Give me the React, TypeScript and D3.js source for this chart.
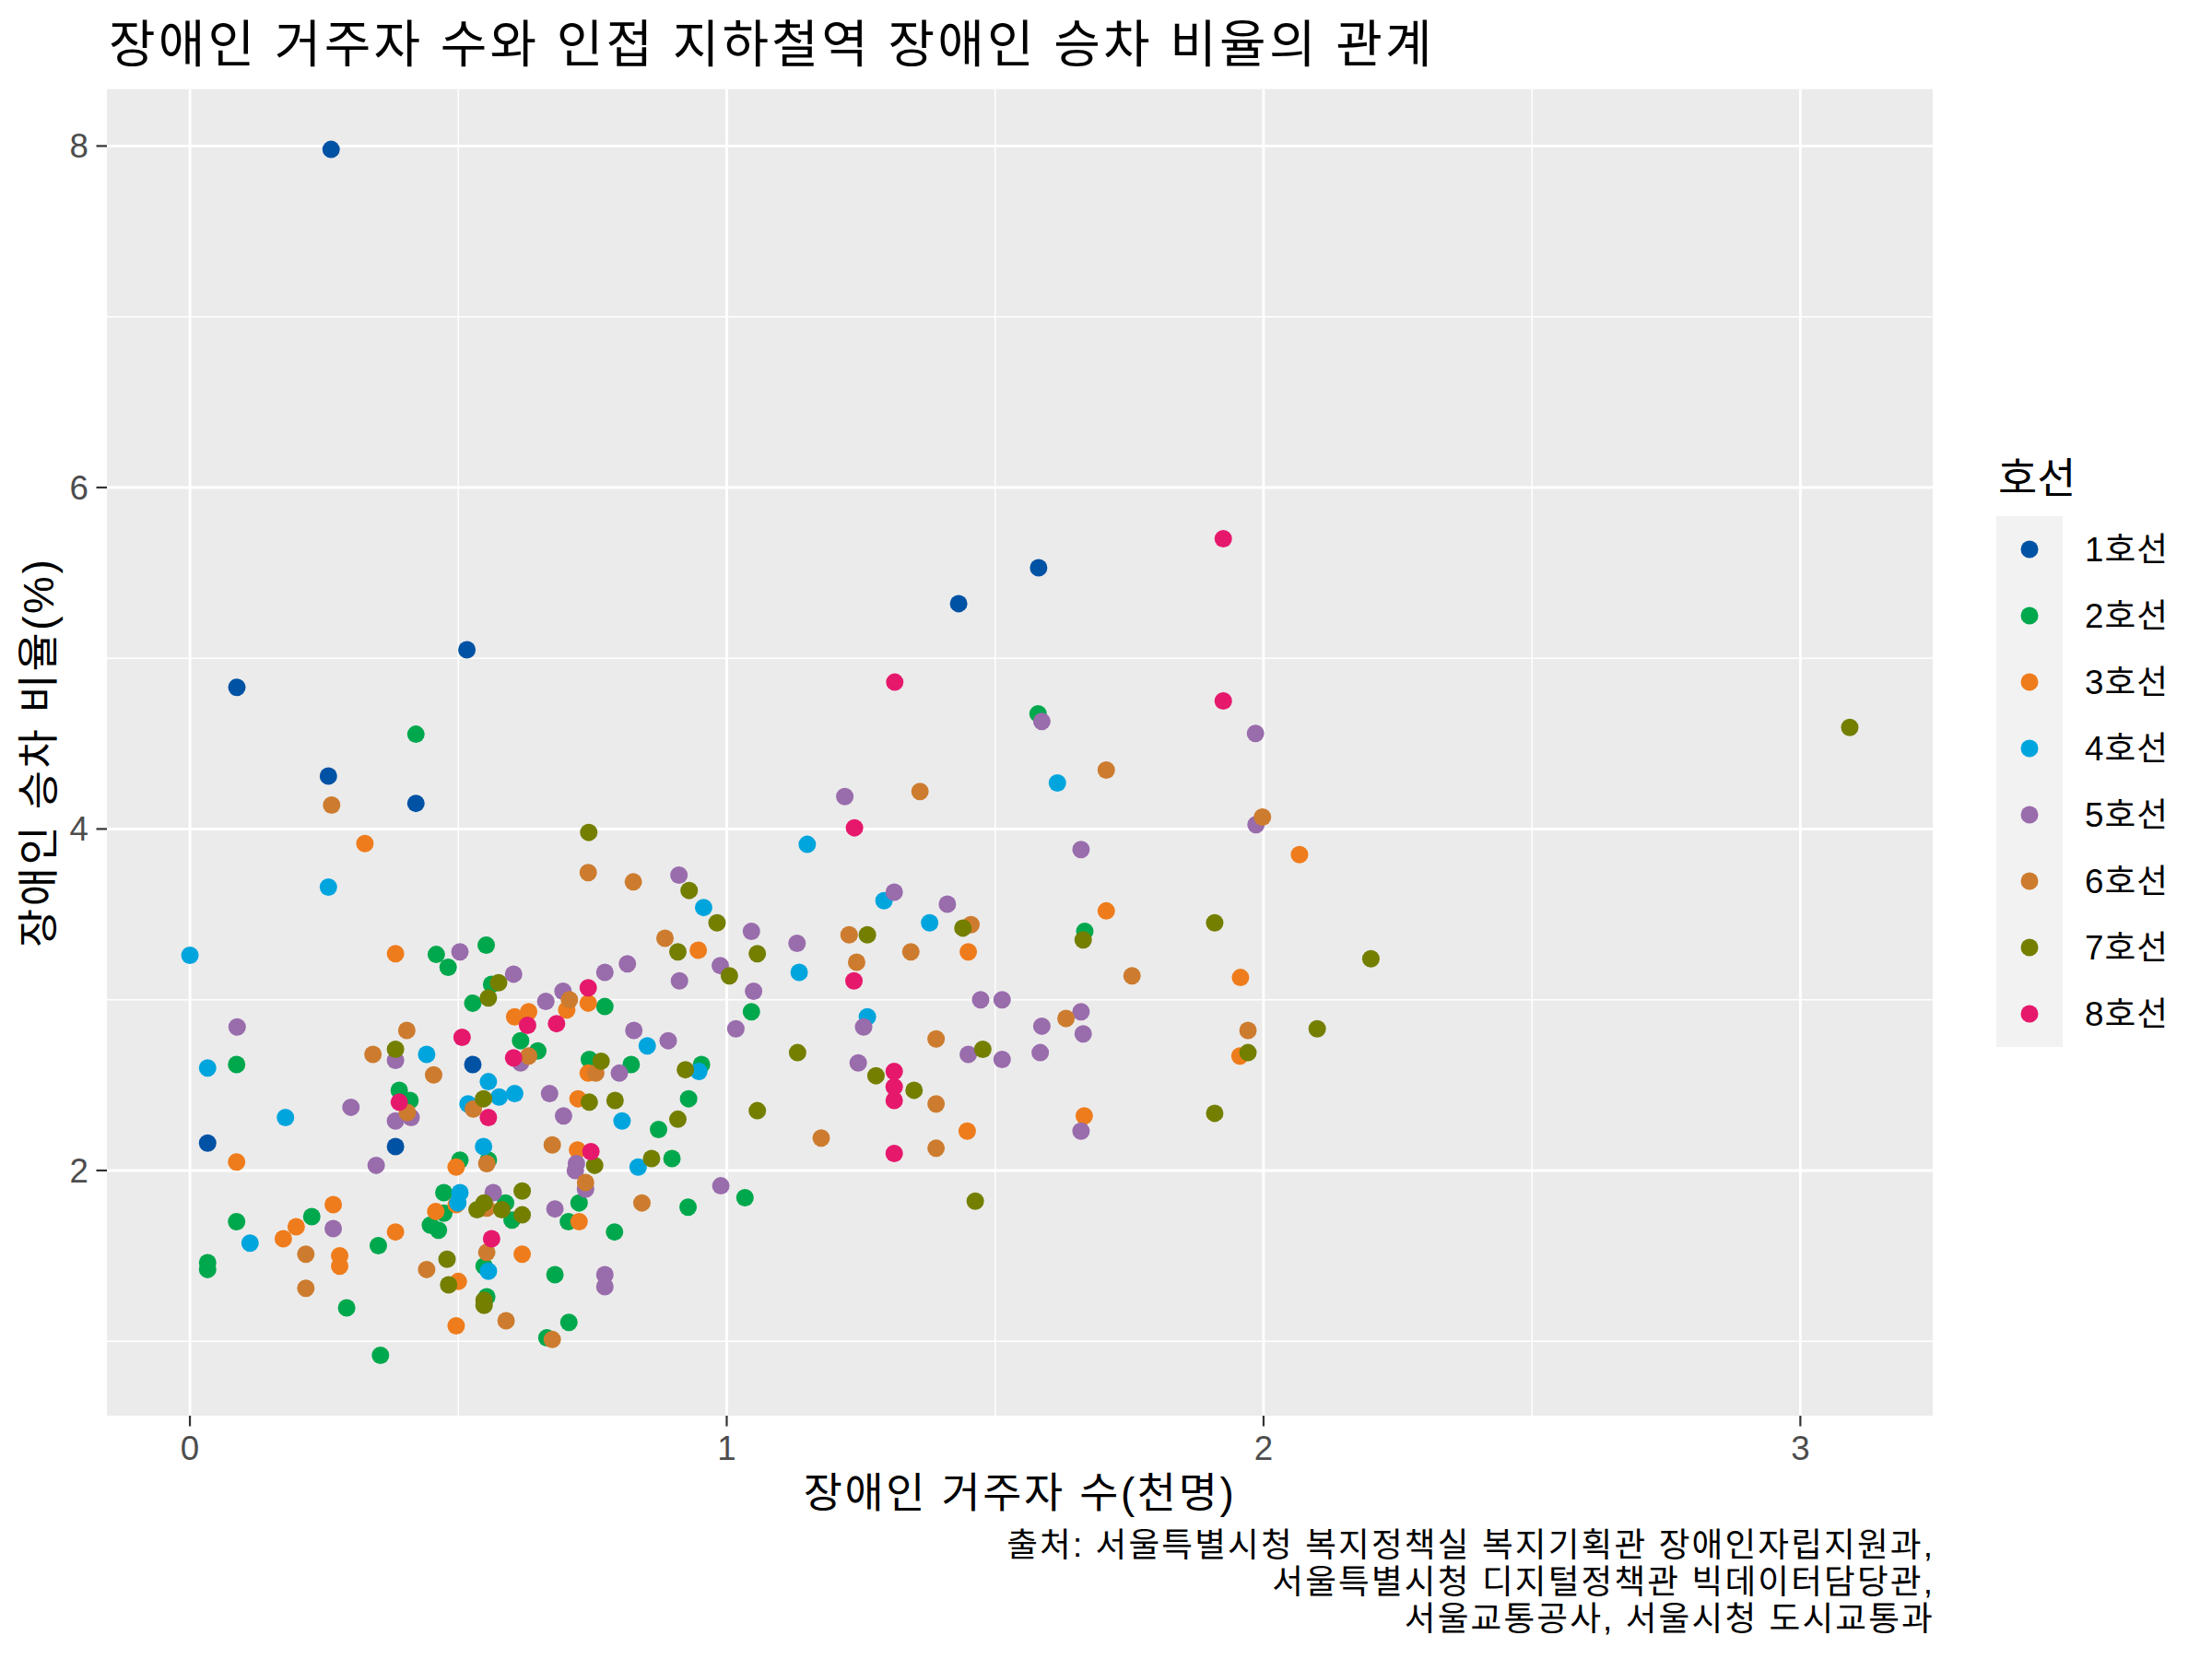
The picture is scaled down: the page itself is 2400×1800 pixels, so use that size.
import React from 'react';
import * as d3 from 'd3';

const lineNames = ['1호선', '2호선', '3호선', '4호선', '5호선', '6호선', '7호선', '8호선'];
const lineColors = ['#0052A4', '#00A84D', '#EF7C1C', '#00A5DE', '#996CAC', '#CD7C2F', '#747F00', '#E6186C'];

const line1: [number, number][] = [
  [0.263, 7.98], [0.0875, 4.83], [0.516, 5.05], [0.258, 4.31], [0.421, 4.15], [1.432, 5.32], [1.581, 5.53],
  [0.033, 2.16], [0.383, 2.14], [0.527, 2.62],
];
const line2: [number, number][] = [
  [0.459, 3.265], [0.481, 3.19], [0.552, 3.32], [0.562, 3.09], [0.527, 2.98], [0.616, 2.76], [0.648, 2.70],
  [0.087, 2.62], [0.39, 2.47], [0.41, 2.41], [0.556, 2.06], [0.503, 2.06], [0.473, 1.87], [0.473, 1.75],
  [0.448, 1.68], [0.463, 1.65], [0.588, 1.81], [0.60, 1.71], [0.705, 1.70], [0.725, 1.81], [0.087, 1.70],
  [0.227, 1.73], [0.351, 1.56], [0.033, 1.46], [0.033, 1.42], [0.292, 1.195], [0.355, 0.917], [0.548, 1.44],
  [0.68, 1.39], [0.553, 1.26], [0.706, 1.11], [0.665, 1.02],
  [0.773, 2.96], [1.046, 2.93], [0.744, 2.65], [0.822, 2.62], [0.953, 2.62], [0.929, 2.42], [0.873, 2.24],
  [0.898, 2.07], [1.034, 1.84], [0.928, 1.785], [0.791, 1.64],
  [0.421, 4.555], [1.58, 4.675], [1.667, 3.40],
];
const line3: [number, number][] = [
  [0.383, 3.27], [0.605, 2.90], [0.631, 2.93], [0.702, 2.94], [0.723, 2.42], [0.087, 2.05], [0.496, 2.02],
  [0.722, 2.12], [0.496, 1.80], [0.458, 1.76], [0.725, 1.70], [0.267, 1.80], [0.198, 1.67], [0.174, 1.60],
  [0.279, 1.50], [0.279, 1.44], [0.383, 1.64], [0.50, 1.35], [0.619, 1.51], [0.496, 1.09],
  [0.947, 3.29], [0.742, 2.98], [0.742, 2.57], [1.448, 2.23], [1.45, 3.28],
  [0.326, 3.915], [2.067, 3.85], [1.707, 3.52], [1.957, 3.13], [1.956, 2.67], [1.666, 2.32],
];
const line4: [number, number][] = [
  [0.0, 3.26], [0.441, 2.68], [0.033, 2.60], [0.556, 2.52], [0.576, 2.43], [0.605, 2.45], [0.518, 2.39],
  [0.178, 2.31], [0.547, 2.14], [0.503, 1.87], [0.499, 1.81], [0.112, 1.575], [0.556, 1.41],
  [1.378, 3.45], [1.135, 3.16], [1.262, 2.90], [0.852, 2.73], [0.948, 2.58], [0.805, 2.29], [0.835, 2.02],
  [0.258, 3.66], [0.957, 3.54], [1.15, 3.91], [1.293, 3.58], [1.616, 4.27],
];
const line5: [number, number][] = [
  [0.503, 3.28], [0.603, 3.15], [0.663, 2.99], [0.695, 3.05], [0.616, 2.63], [0.088, 2.84], [0.383, 2.645],
  [0.670, 2.45], [0.696, 2.32], [0.72, 2.04], [0.383, 2.29], [0.412, 2.31], [0.30, 2.37], [0.347, 2.03],
  [0.565, 1.87], [0.68, 1.775], [0.267, 1.66],
  [1.046, 3.40], [1.131, 3.33], [0.988, 3.20], [0.912, 3.11], [0.815, 3.21], [0.773, 3.16], [1.05, 3.05],
  [1.017, 2.83], [1.255, 2.84], [1.45, 2.68], [0.827, 2.82], [0.891, 2.76], [0.80, 2.57], [1.245, 2.63],
  [0.718, 2.00], [0.737, 1.89], [0.989, 1.91], [0.773, 1.39], [0.773, 1.32],
  [0.911, 3.73], [1.22, 4.19], [1.312, 3.63], [1.411, 3.56],
  [1.587, 4.63], [1.985, 4.56], [1.986, 4.025], [1.66, 3.88], [1.473, 3.0], [1.513, 3.0], [1.66, 2.93],
  [1.587, 2.845], [1.664, 2.80], [1.513, 2.65], [1.584, 2.69], [1.66, 2.23],
];
const line6: [number, number][] = [
  [0.707, 3.0], [0.631, 2.67], [0.404, 2.82], [0.341, 2.68], [0.454, 2.56], [0.528, 2.36], [0.405, 2.34],
  [0.553, 2.04], [0.675, 2.15], [0.553, 1.78], [0.216, 1.51], [0.216, 1.31], [0.441, 1.42], [0.553, 1.52],
  [0.589, 1.12], [0.675, 1.01],
  [0.885, 3.36], [1.228, 3.38], [1.343, 3.28], [1.242, 3.22], [1.39, 2.77], [0.756, 2.57], [1.39, 2.39],
  [1.39, 2.13], [1.176, 2.19], [0.737, 1.93], [0.842, 1.81],
  [0.264, 4.14], [0.742, 3.745], [0.826, 3.69], [1.36, 4.22],
  [1.707, 4.345], [1.998, 4.07], [1.455, 3.44], [1.755, 3.14], [1.632, 2.89], [1.971, 2.82],
];
const line7: [number, number][] = [
  [0.575, 3.10], [0.556, 3.01], [0.383, 2.71], [0.547, 2.42], [0.619, 1.88], [0.548, 1.81], [0.535, 1.77],
  [0.581, 1.77], [0.619, 1.74], [0.479, 1.48], [0.482, 1.33], [0.548, 1.24], [0.548, 1.21],
  [0.982, 3.45], [0.909, 3.28], [1.057, 3.27], [1.44, 3.42], [1.262, 3.38], [1.005, 3.14], [0.766, 2.64],
  [0.923, 2.59], [1.132, 2.69], [1.278, 2.555], [1.349, 2.47], [1.057, 2.35], [0.744, 2.40], [0.792, 2.41],
  [0.909, 2.30], [0.754, 2.03], [0.86, 2.07], [1.463, 1.82],
  [0.743, 3.98], [0.93, 3.64],
  [1.664, 3.35], [1.909, 3.45], [2.20, 3.24], [1.477, 2.71], [2.10, 2.83], [1.971, 2.69], [1.909, 2.335],
  [3.092, 4.595],
];
const line8: [number, number][] = [
  [0.629, 2.85], [0.683, 2.86], [0.507, 2.78], [0.603, 2.66], [0.556, 2.31], [0.39, 2.40], [0.562, 1.60],
  [0.742, 3.07], [1.237, 3.11], [1.312, 2.58], [1.312, 2.49], [1.312, 2.41], [1.312, 2.10], [0.747, 2.11],
  [1.238, 4.007], [1.313, 4.86], [1.925, 4.75], [1.925, 5.70],
];

const series = [line1, line2, line3, line4, line5, line6, line7, line8];

const xMajor = [0, 1, 2, 3];
const xMinor = [0.5, 1.5, 2.5];
const yMajor = [2, 4, 6, 8];
const yMinor = [1, 3, 5, 7];

const titleText = '장애인 거주자 수와 인접 지하철역 장애인 승차 비율의 관계';
const xTitle = '장애인 거주자 수(천명)';
const yTitle = '장애인 승차 비율(%)';
const legendTitle = '호선';
const captionLines = [
  '출처: 서울특별시청 복지정책실 복지기획관 장애인자립지원과,',
  '서울특별시청 디지털정책관 빅데이터담당관,',
  '서울교통공사, 서울시청 도시교통과',
];

const FONT = '"Liberation Sans", Arial, "Noto Sans CJK KR", sans-serif';
const KSP = '0.058em';

export default function App() {
  const W = 2400;
  const H = 1800;
  const pL = 116, pR = 2097, pT = 96.7, pB = 1536;

  const all = series.flat();
  const xe = d3.extent(all, (d) => d[0]) as [number, number];
  const ye = d3.extent(all, (d) => d[1]) as [number, number];
  const xp = (xe[1] - xe[0]) * 0.05;
  const yp = (ye[1] - ye[0]) * 0.05;
  const x = d3.scaleLinear().domain([xe[0] - xp, xe[1] + xp]).range([pL, pR]);
  const y = d3.scaleLinear().domain([ye[0] - yp, ye[1] + yp]).range([pB, pT]);

  const legX = 2166, legY = 560, keyS = 72;

  return (
    <div style={{ position: 'absolute', left: 0, top: 0 }}>
      <svg width={W} height={H} style={{ display: 'block', background: '#fff' }} fontFamily={FONT}>
        <rect x={0} y={0} width={W} height={H} fill="#fff" />
        <text x={pL + 2} y={67} fontSize={55} fill="#000" letterSpacing={KSP}>{titleText}</text>
        <rect x={pL} y={pT} width={pR - pL} height={pB - pT} fill="#EBEBEB" />
        {xMinor.map((v) => (
          <line key={'xm' + v} x1={x(v)} x2={x(v)} y1={pT} y2={pB} stroke="#fff" strokeWidth={1.5} />
        ))}
        {yMinor.map((v) => (
          <line key={'ym' + v} x1={pL} x2={pR} y1={y(v)} y2={y(v)} stroke="#fff" strokeWidth={1.5} />
        ))}
        {xMajor.map((v) => (
          <line key={'xM' + v} x1={x(v)} x2={x(v)} y1={pT} y2={pB} stroke="#fff" strokeWidth={2.9} />
        ))}
        {yMajor.map((v) => (
          <line key={'yM' + v} x1={pL} x2={pR} y1={y(v)} y2={y(v)} stroke="#fff" strokeWidth={2.9} />
        ))}
        {series.map((s, i) =>
          s.map((d, j) => (
            <circle key={i + '-' + j} cx={x(d[0])} cy={y(d[1])} r={9.5} fill={lineColors[i]} />
          ))
        )}
        {xMajor.map((v) => (
          <g key={'xt' + v}>
            <line x1={x(v)} x2={x(v)} y1={pB} y2={pB + 11.5} stroke="#333" strokeWidth={2.2} />
            <text x={x(v)} y={pB + 48} fontSize={36.7} fill="#4D4D4D" textAnchor="middle">{v}</text>
          </g>
        ))}
        {yMajor.map((v) => (
          <g key={'yt' + v}>
            <line x1={pL - 11.5} x2={pL} y1={y(v)} y2={y(v)} stroke="#333" strokeWidth={2.2} />
            <text x={pL - 20} y={y(v) + 13} fontSize={36.7} fill="#4D4D4D" textAnchor="end">{v}</text>
          </g>
        ))}
        <text x={(pL + pR) / 2} y={1636} fontSize={45.8} fill="#000" textAnchor="middle" letterSpacing={KSP}>
          {xTitle}
        </text>
        <text
          transform={`translate(58, ${(pT + pB) / 2}) rotate(-90)`}
          fontSize={45.8}
          fill="#000"
          textAnchor="middle"
          letterSpacing={KSP}
        >
          {yTitle}
        </text>
        <text x={legX + 2} y={535} fontSize={45.8} fill="#000">{legendTitle}</text>
        {lineNames.map((n, i) => (
          <g key={'lg' + i}>
            <rect x={legX} y={legY + i * keyS} width={keyS} height={keyS} fill="#F2F2F2" />
            <circle cx={legX + keyS / 2} cy={legY + i * keyS + keyS / 2} r={9.5} fill={lineColors[i]} />
            <text x={legX + keyS + 24} y={legY + i * keyS + keyS / 2 + 13} fontSize={36.7} fill="#000" letterSpacing="0.03em">
              {n}
            </text>
          </g>
        ))}
        {captionLines.map((c, i) => (
          <text key={'cap' + i} x={pR + 2} y={1689 + i * 40} fontSize={36.7} fill="#000" textAnchor="end" letterSpacing={KSP}>
            {c}
          </text>
        ))}
      </svg>
    </div>
  );
}
